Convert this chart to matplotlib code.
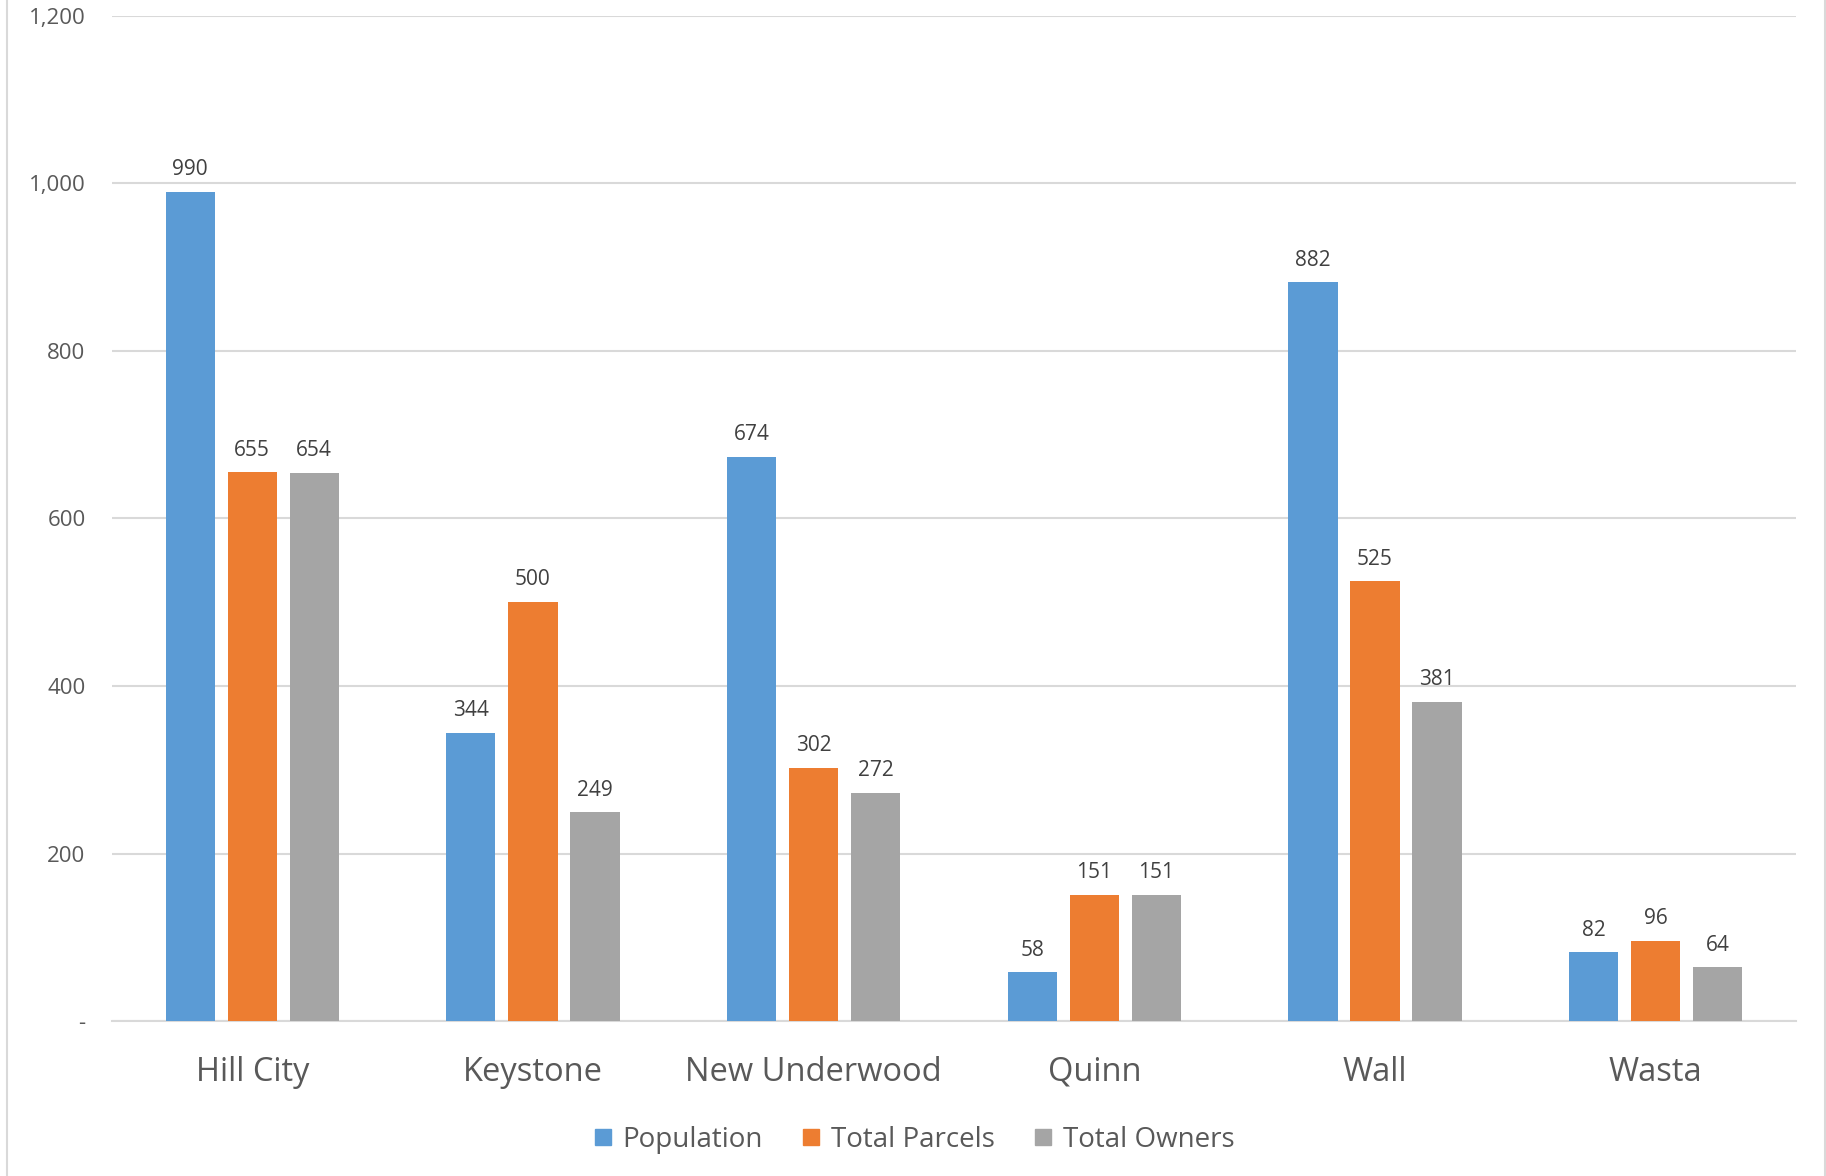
import numpy as np
import matplotlib
matplotlib.use("Agg")
from matplotlib import pyplot as plt
import matplotlib.ticker as ticker
from matplotlib.lines import Line2D

plt.rcParams['font.family'] = ['Open Sans', 'DejaVu Sans']

towns = ['Hill City', 'Keystone', 'New Underwood', 'Quinn', 'Wall', 'Wasta']
population = [990, 344, 674, 58, 882, 82]
total_parcels = [655, 500, 302, 151, 525, 96]
total_owners = [654, 249, 272, 151, 381, 64]

series_names = ['Population', 'Total Parcels', 'Total Owners']
series_vals = [population, total_parcels, total_owners]
series_colors = ['#5B9BD5', '#ED7D31', '#A5A5A5']

fig = plt.figure(figsize=(18.26, 11.76), dpi=100)
ax = fig.add_axes([0.0613, 0.1318, 0.9223, 0.8546])

x = np.arange(len(towns))
bar_w = 0.175
step = 0.221
for i, (name, vals, col) in enumerate(zip(series_names, series_vals, series_colors)):
    xs = x + (i - 1) * step
    ax.bar(xs, vals, width=bar_w, color=col, label=name, zorder=3)
    for xi, v in zip(xs, vals):
        ax.annotate(f'{v}', (xi, v), xytext=(0, 8.5), textcoords='offset points',
                    ha='center', va='bottom', fontsize=15, color='#404040')

ax.set_xlim(-0.5, len(towns) - 0.5)
ax.set_ylim(0, 1200)
ax.set_yticks(np.arange(0, 1201, 200))
ax.yaxis.set_major_formatter(ticker.FuncFormatter(lambda v, p: '-' if v == 0 else f'{int(v):,}'))
ax.grid(axis='y', color='#D9D9D9', linewidth=1.5, zorder=0)
for s in ['top', 'right', 'left']:
    ax.spines[s].set_visible(False)
ax.spines['bottom'].set_color('#D9D9D9')
ax.spines['bottom'].set_linewidth(1.5)
ax.tick_params(axis='y', length=0, labelsize=16, labelcolor='#595959', pad=19)
ax.tick_params(axis='x', length=0, labelsize=23.5, labelcolor='#595959', pad=25)
ax.set_xticks(x)
ax.set_xticklabels(towns)

handles = [Line2D([], [], marker='s', linestyle='none', markersize=11.5,
                  color=c, label=n) for n, c in zip(series_names, series_colors)]
fig.legend(handles=handles, loc='center', bbox_to_anchor=(0.5, 0.031), ncol=3,
           frameon=False, fontsize=20, labelcolor='#595959',
           handlelength=0.8, handletextpad=0.3, columnspacing=1.35)

# outer chart border
fig.add_artist(Line2D([0.0037, 0.0037], [0, 1], color='#D9D9D9', linewidth=1.5))
fig.add_artist(Line2D([0.9994, 0.9994], [0, 1], color='#D9D9D9', linewidth=1.5))

fig.savefig('out.png', dpi=100)
